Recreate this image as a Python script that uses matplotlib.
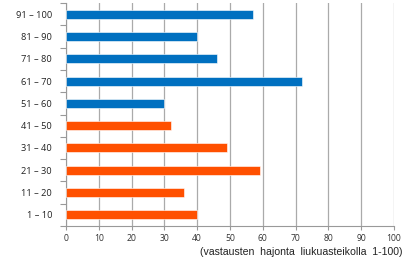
import matplotlib
matplotlib.use("Agg")
import matplotlib.pyplot as plt
import numpy as np

categories = ["1 – 10", "11 – 20", "21 – 30", "31 – 40", "41 – 50",
              "51 – 60", "61 – 70", "71 – 80", "81 – 90", "91 – 100"]
values = [40, 36, 59, 49, 32, 30, 72, 46, 40, 57]
barColors = ["#FF5000"] * 5 + ["#0070C0"] * 5
xTicks = list(range(0, 101, 10))
xLabel = "(vastausten  hajonta  liukuasteikolla  1-100)"

plt.rcParams["font.family"] = ["Open Sans", "DejaVu Sans"]

fig = plt.figure(figsize=(4.04, 2.60), dpi=100)
ax = fig.add_axes([66 / 404, 1 - 226 / 260, 328 / 404, 223 / 260])

pos = np.arange(len(categories))
ax.barh(pos, values, height=0.4, color=barColors, edgecolor="white",
        linewidth=0.4, zorder=3)

ax.set_xlim(0, 100)
ax.set_ylim(-0.5, len(categories) - 0.5)
ax.set_xticks(xTicks)
ax.set_xticklabels([str(t) for t in xTicks], fontsize=6.2, color="#333333")
ax.set_yticks(pos)
ax.set_yticklabels(categories, fontsize=6.7, color="#222222")
ax.set_yticks(np.arange(-0.5, len(categories), 1), minor=True)
ax.tick_params(axis="y", which="major", length=0, pad=10)
ax.tick_params(axis="y", which="minor", length=4, color="#999999", width=0.8)
ax.tick_params(axis="x", length=3, color="#999999", width=0.8, pad=3)

ax.grid(axis="x", color="#aaaaaa", linewidth=0.9, zorder=0)
for side in ["top", "right"]:
    ax.spines[side].set_visible(False)
ax.spines["left"].set_color("#999999")
ax.spines["bottom"].set_color("#999999")

fig.text(402 / 404, 1 - 252 / 260, xLabel, ha="right", va="center",
         fontsize=7.6, color="#222222", family="Liberation Sans")

plt.savefig("out.png", dpi=100)
